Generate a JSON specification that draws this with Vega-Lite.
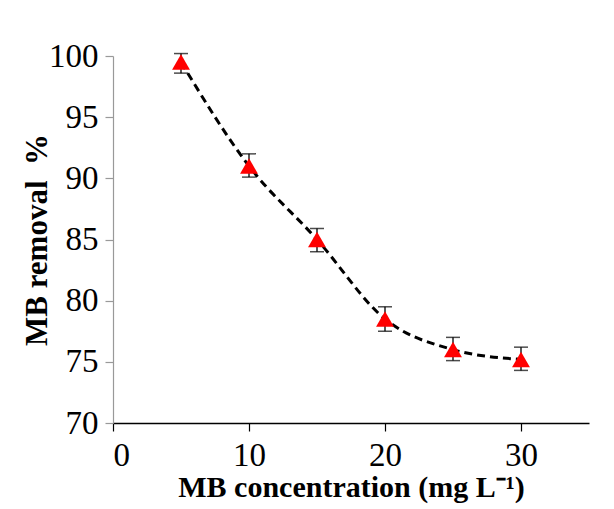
{
  "$schema": "https://vega.github.io/schema/vega-lite/v6.json",
  "autosize": {"type": "none"},
  "width": 476,
  "height": 367,
  "padding": {"left": 113, "top": 56, "right": 25, "bottom": 86},
  "background": "white",
  "config": {
    "view": {"stroke": null},
    "font": "Liberation Serif",
    "axis": {"grid": false}
  },
  "data": {
    "values": [
      {"conc": 5, "removal": 99.5, "lo": 98.6, "hi": 100.2},
      {"conc": 10, "removal": 91.0, "lo": 90.1, "hi": 92.0},
      {"conc": 15, "removal": 85.0, "lo": 84.0, "hi": 85.9},
      {"conc": 20, "removal": 78.5, "lo": 77.5, "hi": 79.5},
      {"conc": 25, "removal": 76.0, "lo": 75.1, "hi": 77.0},
      {"conc": 30, "removal": 75.2, "lo": 74.3, "hi": 76.2}
    ]
  },
  "encoding": {
    "x": {
      "field": "conc", "type": "quantitative",
      "scale": {"domain": [0, 35], "nice": false, "zero": false},
      "axis": {
        "values": [0, 10, 20, 30],
        "title": "MB concentration (mg L⁻¹)",
        "titleFont": "Liberation Serif", "labelFont": "Liberation Serif",
        "titleFontSize": 30, "titleFontWeight": "bold", "titleColor": "black",
        "titlePadding": 0,
        "labelFontSize": 33, "labelColor": "black", "labelPadding": 8,
        "domainColor": "black", "domainWidth": 1.5,
        "tickColor": "black", "tickSize": 8, "tickWidth": 1.2
      }
    },
    "y": {
      "field": "removal", "type": "quantitative",
      "scale": {"domain": [70, 100], "nice": false, "zero": false},
      "axis": {
        "values": [70, 75, 80, 85, 90, 95, 100],
        "title": "MB removal\u00a0\u00a0%",
        "titleFont": "Liberation Serif", "labelFont": "Liberation Serif",
        "titleFontSize": 31, "titleFontWeight": "bold", "titleColor": "black",
        "titlePadding": -5,
        "labelFontSize": 33, "labelColor": "black", "labelPadding": 7,
        "domainColor": "#999999", "domainWidth": 1.2,
        "tickColor": "#999999", "tickSize": 8, "tickWidth": 1.2
      }
    }
  },
  "layer": [
    {
      "mark": {"type": "line", "interpolate": "monotone", "color": "black", "strokeWidth": 3, "strokeDash": [8, 5]}
    },
    {
      "mark": {"type": "rule", "color": "black", "strokeWidth": 1.3},
      "encoding": {"y": {"field": "lo", "type": "quantitative"}, "y2": {"field": "hi"}}
    },
    {
      "mark": {"type": "tick", "color": "black", "orient": "horizontal", "size": 14, "thickness": 1.5},
      "encoding": {"y": {"field": "lo", "type": "quantitative"}}
    },
    {
      "mark": {"type": "tick", "color": "black", "orient": "horizontal", "size": 14, "thickness": 1.5},
      "encoding": {"y": {"field": "hi", "type": "quantitative"}}
    },
    {
      "mark": {"type": "point", "shape": "triangle-up", "filled": true, "color": "red", "opacity": 1, "size": 320}
    }
  ]
}
